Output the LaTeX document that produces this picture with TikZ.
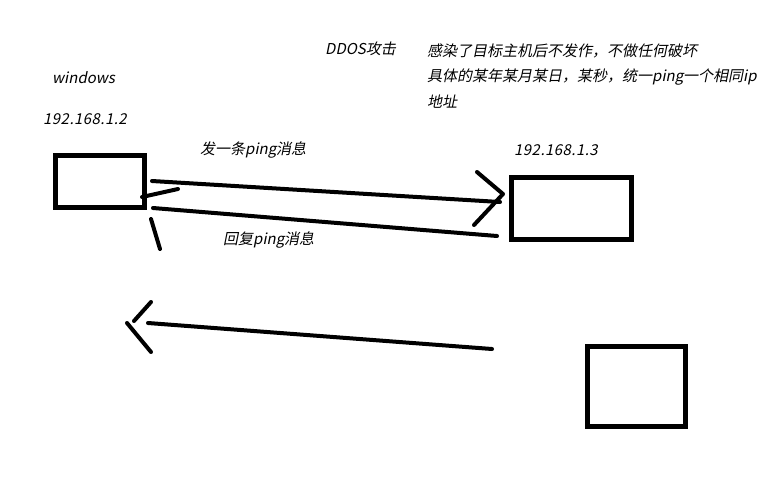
\documentclass[tikz,border=0pt]{standalone}
\usepackage{fontspec}
\setmainfont{Noto Sans CJK SC}[FakeSlant=0.2]
\begin{document}
\begin{tikzpicture}[x=1pt,y=-1pt,
  pc/.style={draw=black,line width=5pt,rectangle,inner sep=0pt,fill=white},
  stroke/.style={draw=black,line width=4pt,line cap=round,line join=round},
  lbl/.style={inner sep=0pt,anchor=west,font=\fontsize{15}{17}\selectfont,text=black}]
\fill[white] (0,0) rectangle (768,480);
\useasboundingbox (0,0) rectangle (768,480);
% computers
\node[pc,minimum width=89pt,minimum height=52pt] (win) at (100,181.5) {};
\node[pc,minimum width=120pt,minimum height=62pt] (tgt) at (571.5,208.5) {};
\node[pc,minimum width=98pt,minimum height=80pt] (other) at (636.5,386.5) {};
% labels
\node[lbl] (wname) at (52,78) {windows};
\node[lbl] (wip) at (43,119) {\addfontfeature{LetterSpace=3}192.168.1.2};
\node[lbl] (send) at (200,150) {发一条ping消息};
\node[lbl] (reply) at (223,240) {回复ping消息};
\node[lbl] (ddos) at (325,49) {DDOS攻击};
\node[lbl] (d1) at (427,51) {感染了目标主机后不发作，不做任何破坏};
\node[lbl] (d2) at (427,77) {具体的某年某月某日，某秒，统一ping一个相同ip};
\node[lbl] (d3) at (427,102) {地址};
\node[lbl] (tip) at (514,150) {\addfontfeature{LetterSpace=3}192.168.1.3};
% hand-drawn connectors
\coordinate (a1) at (152,181);
\coordinate (a2) at (500,202);
\coordinate (h1) at (477,172);
\coordinate (h2) at (503,194);
\coordinate (h3) at (474,225);
\coordinate (b1) at (497,236);
\coordinate (b2) at (153,208);
\coordinate (t1) at (142,197);
\coordinate (t2) at (178,189);
\coordinate (g1) at (151,219);
\coordinate (g2) at (160,249);
\coordinate (c1) at (492,349);
\coordinate (c2) at (148,323);
\coordinate (k1) at (151,302);
\coordinate (k2) at (134,321);
\coordinate (k3) at (127,323);
\coordinate (k4) at (151,352);
\draw[stroke] (a1) -- (a2);
\draw[stroke] (h1) -- (h2) -- (h3);
\draw[stroke] (b1) -- (b2);
\draw[stroke] (t1) -- (t2);
\draw[stroke] (g1) -- (g2);
\draw[stroke] (c1) -- (c2);
\draw[stroke] (k1) -- (k2);
\draw[stroke] (k3) -- (k4);
\end{tikzpicture}
\end{document}
